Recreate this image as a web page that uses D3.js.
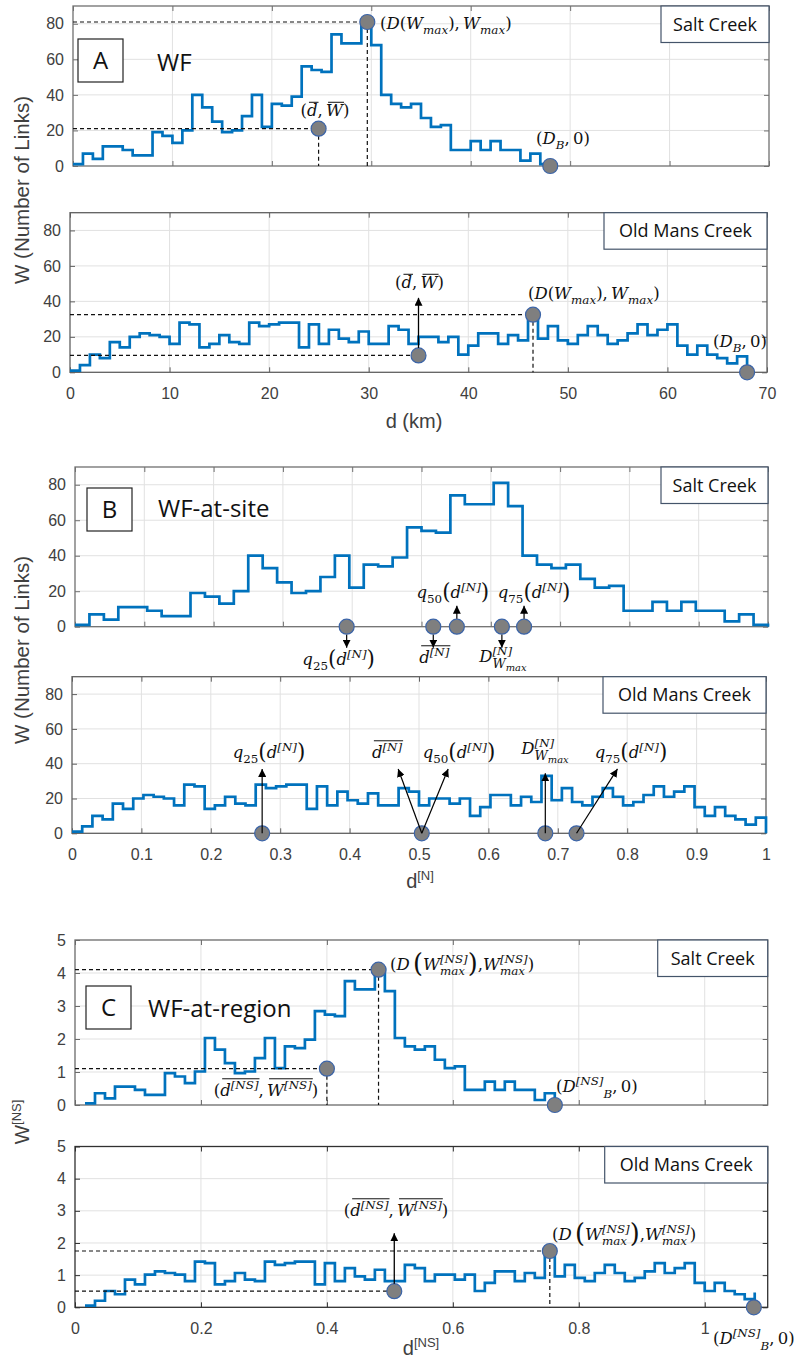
<!DOCTYPE html>
<html>
<head>
<meta charset="utf-8">
<script src="https://cdn.jsdelivr.net/npm/d3@7"></script>
<style>
  body { margin: 0; background: #fff; }
  svg { display: block; }
</style>
</head>
<body>
<svg id="chart" width="797" height="1369"></svg>
<script>
// ---------------------------------------------------------------
// Width functions W(d): number of links per 1 km flow-distance bin
// ---------------------------------------------------------------
const saltCreekW = [1,7,4,11,11,9,6,6,19,17,13,20,40,33,25,19,20,28,40,22,
                    35,34,39,56,54,53,74,69,69,81,68,40,35,33,35,27,22,23,9,9,
                    14,9,14,9,9,3,7,1];
const oldMansCreekW = [1,4,10,8,17,14,20,22,21,20,16,28,27,14,16,21,17,16,28,26,
                       27,28,28,14,27,16,24,19,17,23,16,16,26,24,16,20,20,17,20,10,
                       15,22,22,16,21,18,33,19,26,18,16,21,26,21,16,18,22,27,21,24,
                       27,15,10,15,10,8,5,9];
const saltCreekDB = 48;     // basin length D_B (km)
const oldMansCreekDB = 68;
const nsLength = 63;        // km per unit of d^[NS]
const nsWidth = 19.7;       // links per unit of W^[NS]

// Characteristic points
const saltPeak = [29.6, 81], saltMean = [24.7, 21];
const oldPeak = [46.5, 32.5], oldMean = [35, 9.5], oldMeanArrowTop = 42;
const saltSite = { q25: 0.392, mean: 0.517, q50: 0.551, dwmax: 0.616, q75: 0.648 };
const oldSite = { q25: 0.274, mean: 0.504, q50: 0.504, dwmax: 0.682, q75: 0.727 };
const oldSiteArrowTips = { q25: [0.274, 37], mean: [0.470, 37], q50: [0.542, 37], dwmax: [0.682, 34.5], q75: [0.786, 37] };
const saltRegionPeak = [0.482, 4.1], saltRegionMean = [0.40, 1.1], saltRegionDB = 0.762;
const oldRegionPeak = [0.754, 1.75], oldRegionMean = [0.507, 0.5], oldRegionDB = 1.078, oldRegionArrowTop = 2.3;

// Tick values and labels
const kmTicks = [0, 10, 20, 30, 40, 50, 60, 70];
const linkTicks = [0, 20, 40, 60, 80];
const siteTicks = [0, 0.1, 0.2, 0.3, 0.4, 0.5, 0.6, 0.7, 0.8, 0.9, 1];
const siteTickLabels = ["0", "0.1", "0.2", "0.3", "0.4", "0.5", "0.6", "0.7", "0.8", "0.9", "1"];
const regionTicks = [0, 0.2, 0.4, 0.6, 0.8, 1];
const regionTickLabels = ["0", "0.2", "0.4", "0.6", "0.8", "1"];
const nsTicks = [0, 1, 2, 3, 4, 5];

// ---------------------------------------------------------------
const svg = d3.select("#chart");
const LINE = "#0072bd", GRID = "#e1e1e1", TICKTXT = "#404040";
const SANS = "'Liberation Sans', Arial, sans-serif";
const LABEL = "'Open Sans', sans-serif";
const MATH = "'DejaVu Serif', serif";

const defs = svg.append("defs");
defs.append("marker").attr("id", "head").attr("viewBox", "0 0 10 10")
  .attr("refX", 10).attr("refY", 5).attr("markerWidth", 8).attr("markerHeight", 8)
  .attr("markerUnits", "userSpaceOnUse").attr("orient", "auto")
  .append("path").attr("d", "M0,0 L10,5 L0,10 Z").attr("fill", "#000");

function makeAxes(o) {
  const x = d3.scaleLinear().domain(o.xDomain).range(o.xRange);
  const y = d3.scaleLinear().domain(o.yDomain).range(o.yRange);
  const g = svg.append("g");
  const [x0, x1] = o.xRange, [y0, y1] = o.yRange;
  g.append("g").selectAll("line")
    .data(o.xTicks.filter(v => v > o.xDomain[0] && v < o.xDomain[1]))
    .join("line").attr("x1", d => x(d)).attr("x2", d => x(d)).attr("y1", y0).attr("y2", y1)
    .attr("stroke", GRID).attr("stroke-width", 1);
  g.append("g").selectAll("line")
    .data(o.yTicks.filter(v => v > o.yDomain[0] && v < o.yDomain[1]))
    .join("line").attr("y1", d => y(d)).attr("y2", d => y(d)).attr("x1", x0).attr("x2", x1)
    .attr("stroke", GRID).attr("stroke-width", 1);

  const style = sel => {
    sel.select(".domain").remove();
    sel.selectAll(".tick line").attr("stroke", o.frame).attr("stroke-width", 1);
    sel.selectAll(".tick text").attr("fill", TICKTXT).attr("font-family", SANS).attr("font-size", 16);
  };
  g.append("g").attr("transform", `translate(${x0},0)`)
    .call(d3.axisLeft(y).tickValues(o.yTicks).tickSize(-5).tickPadding(9).tickFormat(d3.format("d"))).call(style);
  g.append("g").attr("transform", `translate(${x1},0)`)
    .call(d3.axisRight(y).tickValues(o.yTicks).tickSize(-5).tickFormat(() => "")).call(style);
  g.append("g").attr("transform", `translate(0,${y1})`)
    .call(d3.axisTop(x).tickValues(o.xTicks).tickSize(-5).tickFormat(() => "")).call(style);
  g.append("g").attr("transform", `translate(0,${y0})`)
    .call(d3.axisBottom(x).tickValues(o.xTicks).tickSize(-5).tickPadding(15)
      .tickFormat((d, i) => o.xTickLabels ? o.xTickLabels[i] : "")).call(style);
  g.append("rect").attr("x", x0).attr("y", y1).attr("width", x1 - x0).attr("height", y0 - y1)
    .attr("fill", "none").attr("stroke", o.frame).attr("stroke-width", 1.3);
  return { g, x, y };
}

function stairs(ax, pts) {
  ax.g.append("path").datum(pts)
    .attr("d", d3.line().x(d => ax.x(d[0])).y(d => ax.y(d[1])).curve(d3.curveStepAfter))
    .attr("fill", "none").attr("stroke", LINE).attr("stroke-width", 2.7).attr("stroke-linejoin", "miter");
}
function dot(ax, px, py) {
  ax.g.append("circle").attr("cx", ax.x(px)).attr("cy", ax.y(py)).attr("r", 7.5)
    .attr("fill", "#7f7f7f").attr("stroke", "#3b64a8").attr("stroke-width", 1.2);
}
function dashH(ax, px, py) {
  ax.g.append("line").attr("x1", ax.x(ax.x.domain()[0])).attr("x2", ax.x(px))
    .attr("y1", ax.y(py)).attr("y2", ax.y(py))
    .attr("stroke", "#111").attr("stroke-width", 1.2).attr("stroke-dasharray", "4,3");
}
function dashV(ax, px, py) {
  ax.g.append("line").attr("x1", ax.x(px)).attr("x2", ax.x(px))
    .attr("y1", ax.y(py)).attr("y2", ax.y(0))
    .attr("stroke", "#111").attr("stroke-width", 1.2).attr("stroke-dasharray", "4,3");
}
function arrow(x1, y1, x2, y2, w = 1.3) {
  svg.append("line").attr("x1", x1).attr("y1", y1).attr("x2", x2).attr("y2", y2)
    .attr("stroke", "#000").attr("stroke-width", w).attr("marker-end", "url(#head)");
}
function creekBox(ax, name, w) {
  const [x0, x1] = ax.x.range(), top = ax.y.range()[1];
  const h = 36.5;
  ax.g.append("rect").attr("x", x1 - w).attr("y", top).attr("width", w).attr("height", h)
    .attr("fill", "#fff").attr("stroke", "#44546a").attr("stroke-width", 1.2);
  ax.g.append("text").attr("x", x1 - w / 2).attr("y", top + h / 2).attr("dy", "0.36em")
    .attr("text-anchor", "middle").attr("font-family", LABEL).attr("font-size", 18)
    .attr("fill", "#111").text(name);
}
function panelTag(bx, by, letter, title, tx, ty) {
  svg.append("rect").attr("x", bx).attr("y", by).attr("width", 45).attr("height", 43)
    .attr("fill", "#fff").attr("stroke", "#222").attr("stroke-width", 1.2);
  svg.append("text").attr("x", bx + 22.5).attr("y", by + 21.5).attr("dy", "0.36em")
    .attr("text-anchor", "middle").attr("font-family", LABEL).attr("font-size", 24)
    .attr("fill", "#111").text(letter);
  svg.append("text").attr("x", tx).attr("y", ty).attr("font-family", LABEL).attr("font-size", 24)
    .attr("fill", "#111").text(title);
}

// Math-style label built from runs of text (italic, sub/superscripts, overlines)
function mathLabel(x, y, parts, anchor = "start", size = 16.5) {
  const g = svg.append("g");
  let cx = 0, hold = null;
  const placed = [];
  for (const p of parts) {
    const s = size * (p.sz || 1);
    const ty = (p.dy || 0) * size;
    const t = g.append("text").attr("x", cx).attr("y", ty)
      .attr("font-family", MATH).attr("font-size", s)
      .attr("font-style", p.i ? "italic" : "normal").attr("fill", "#111").text(p.t);
    const w = t.node().getComputedTextLength();
    placed.push({ p, x0: cx, x1: cx + w, top: ty - s * 0.74 });
    if (p.hold) hold = cx + w; else cx += w;
    if (p.release) { cx = Math.max(cx, hold); hold = null; }
  }
  const groups = d3.group(placed.filter(d => d.p.ol), d => d.p.ol);
  for (const [, arr] of groups) {
    const x0 = d3.min(arr, d => d.x0), x1 = d3.max(arr, d => d.x1), top = d3.min(arr, d => d.top);
    g.append("line").attr("x1", x0 + 2).attr("x2", x1 + 1).attr("y1", top - 1.5).attr("y2", top - 1.5)
      .attr("stroke", "#111").attr("stroke-width", 1);
  }
  const shift = anchor === "middle" ? -cx / 2 : anchor === "end" ? -cx : 0;
  g.attr("transform", `translate(${x + shift},${y})`);
}
const I = (t, extra = {}) => Object.assign({ t, i: 1 }, extra);
const R = (t, extra = {}) => Object.assign({ t }, extra);
const SUB = (t, extra = {}) => Object.assign({ t, i: 1, sz: 0.72, dy: 0.3 }, extra);
const SUP = (t, extra = {}) => Object.assign({ t, i: 1, sz: 0.72, dy: -0.42 }, extra);
const BIG = (t) => ({ t, sz: 1.3, dy: 0.08 });

const lblPeak = [R("("), I("D"), R("("), I("W"), SUB("max"), R("),\u2009"), I("W"), SUB("max"), R(")")];
const lblMean = [R("("), I("d", { ol: 1 }), R(",\u2009"), I("W", { ol: 2 }), R(")")];
const lblDB = [R("("), I("D"), SUB("B"), R(",\u20090)")];
const lblQ = q => [I("q"), SUB(q, { i: 0 }), BIG("("), I("d"), SUP("[N]"), BIG(")")];
const lblMeanN = [I("d", { ol: 1 }), SUP("[N]", { ol: 1 })];
const lblDwN = [I("D"), SUP("[N]", { hold: true }), SUB("W", { dy: 0.34, sz: 0.78 }), { t: "max", i: 1, sz: 0.6, dy: 0.55, release: true }];
const lblPeakNS = [R("("), I("D"), R("\u2009"), { t: "(", sz: 1.55, dy: 0.12 }, I("W"), SUP("[NS]", { hold: true }),
  SUB("max", { release: true }), { t: ")", sz: 1.55, dy: 0.12 }, R(","), I("W"), SUP("[NS]", { hold: true }),
  SUB("max", { release: true }), R(")")];
const lblMeanNS = [R("("), I("d", { ol: 1 }), SUP("[NS]", { ol: 1 }), R(",\u2009"), I("W", { ol: 2 }), SUP("[NS]", { ol: 2 }), R(")")];
const lblDBNS = [R("("), I("D"), SUP("[NS]"), SUB("B", { dy: 0.38 }), R(",\u20090)")];

// ------------------------------ A: WF ------------------------------
const a1 = makeAxes({ xDomain: [0, 70], xRange: [73, 769], yDomain: [0, 90], yRange: [166, 6],
  xTicks: kmTicks, yTicks: linkTicks, frame: "#707070" });
stairs(a1, saltCreekW.map((w, i) => [i, w]).concat([[saltCreekDB, 0]]));
dashH(a1, ...saltPeak); dashV(a1, ...saltPeak);
dashH(a1, ...saltMean); dashV(a1, ...saltMean);
dot(a1, ...saltPeak); dot(a1, ...saltMean); dot(a1, saltCreekDB, 0);
creekBox(a1, "Salt Creek", 108);

const a2 = makeAxes({ xDomain: [0, 70], xRange: [70, 767], yDomain: [0, 90], yRange: [372.3, 212.7],
  xTicks: kmTicks, yTicks: linkTicks, xTickLabels: kmTicks.map(String), frame: "#606060" });
stairs(a2, oldMansCreekW.map((w, i) => [i, w]).concat([[oldMansCreekDB, 0]]));
dashH(a2, ...oldPeak); dashV(a2, ...oldPeak);
dashH(a2, ...oldMean);
dot(a2, ...oldPeak); dot(a2, ...oldMean); dot(a2, oldMansCreekDB, 0);
arrow(a2.x(oldMean[0]), a2.y(oldMean[1]) - 7.5, a2.x(oldMean[0]), a2.y(oldMeanArrowTop));
creekBox(a2, "Old Mans Creek", 163);

panelTag(78, 39, "A", "WF", 157, 71);
mathLabel(380, 29, lblPeak);
mathLabel(325, 116, lblMean, "middle");
mathLabel(536, 144, lblDB);
mathLabel(419.5, 288, lblMean, "middle");
mathLabel(528, 299, lblPeak);
mathLabel(713, 347, lblDB);

svg.append("text").attr("transform", "translate(29,190) rotate(-90)").attr("text-anchor", "middle")
  .attr("font-family", SANS).attr("font-size", 20.5).attr("fill", TICKTXT).text("W (Number of Links)");
svg.append("text").attr("x", 414).attr("y", 428).attr("text-anchor", "middle")
  .attr("font-family", SANS).attr("font-size", 20).attr("fill", TICKTXT).text("d (km)");

// -------------------------- B: WF-at-site --------------------------
const b1 = makeAxes({ xDomain: [0, 1], xRange: [75, 768], yDomain: [0, 90], yRange: [626.7, 467],
  xTicks: siteTicks, yTicks: linkTicks, frame: "#707070" });
stairs(b1, saltCreekW.map((w, i) => [i / saltCreekDB, w]).concat([[1, 0]]));
creekBox(b1, "Salt Creek", 107);
const y0b1 = b1.y(0);
for (const [k, dir] of [["q25", 1], ["mean", 1], ["q50", -1], ["dwmax", 1], ["q75", -1]]) {
  const cx = b1.x(saltSite[k]);
  dot(b1, saltSite[k], 0);
  arrow(cx, y0b1 + dir * 8, cx, y0b1 + dir * 21, 1.2);
}
mathLabel(b1.x(saltSite.q25) - 8, 665, lblQ("25"), "middle");
mathLabel(b1.x(saltSite.mean) + 1, 663, lblMeanN, "middle");
mathLabel(b1.x(saltSite.q50) - 4, 598, lblQ("50"), "middle");
mathLabel(b1.x(saltSite.dwmax) + 1, 662, lblDwN, "middle");
mathLabel(b1.x(saltSite.q75) + 10, 598, lblQ("75"), "middle");

const b2 = makeAxes({ xDomain: [0, 1], xRange: [72, 766], yDomain: [0, 90], yRange: [833.3, 676.7],
  xTicks: siteTicks, yTicks: linkTicks, xTickLabels: siteTickLabels, frame: "#606060" });
stairs(b2, oldMansCreekW.map((w, i) => [i / oldMansCreekDB, w]).concat([[1, 0]]));
creekBox(b2, "Old Mans Creek", 163);
for (const k of ["q25", "mean", "q50", "dwmax", "q75"]) {
  const tip = oldSiteArrowTips[k];
  arrow(b2.x(oldSite[k]), b2.y(0), b2.x(tip[0]), b2.y(tip[1]), 1.2);
}
for (const k of ["q25", "mean", "dwmax", "q75"]) dot(b2, oldSite[k], 0);
mathLabel(269, 758, lblQ("25"), "middle");
mathLabel(387, 758, lblMeanN, "middle");
mathLabel(459, 758, lblQ("50"), "middle");
mathLabel(545, 754, lblDwN, "middle");
mathLabel(631, 758, lblQ("75"), "middle");

panelTag(87, 488, "B", "WF-at-site", 158, 517);
svg.append("text").attr("transform", "translate(29,650) rotate(-90)").attr("text-anchor", "middle")
  .attr("font-family", SANS).attr("font-size", 20.5).attr("fill", TICKTXT).text("W (Number of Links)");
const dN = svg.append("text").attr("x", 420).attr("y", 888).attr("text-anchor", "middle")
  .attr("font-family", SANS).attr("font-size", 20).attr("fill", TICKTXT);
dN.append("tspan").text("d");
dN.append("tspan").attr("dy", -8).attr("font-size", 13).text("[N]");

// ------------------------- C: WF-at-region -------------------------
const c1 = makeAxes({ xDomain: [0, 1.1], xRange: [75, 767.7], yDomain: [0, 5], yRange: [1105, 940],
  xTicks: regionTicks, yTicks: nsTicks, frame: "#6a6a6a" });
stairs(c1, saltCreekW.map((w, i) => [(i + 1) / nsLength, w / nsWidth]));
dashH(c1, ...saltRegionPeak); dashV(c1, ...saltRegionPeak);
dashH(c1, ...saltRegionMean); dashV(c1, ...saltRegionMean);
dot(c1, ...saltRegionPeak); dot(c1, ...saltRegionMean); dot(c1, saltRegionDB, 0);
creekBox(c1, "Salt Creek", 110);

const c2 = makeAxes({ xDomain: [0, 1.1], xRange: [75, 767.7], yDomain: [0, 5], yRange: [1307.3, 1146.5],
  xTicks: regionTicks, yTicks: nsTicks, xTickLabels: regionTickLabels, frame: "#303030" });
stairs(c2, oldMansCreekW.map((w, i) => [(i + 1) / nsLength, w / nsWidth]));
dashH(c2, ...oldRegionPeak); dashV(c2, ...oldRegionPeak);
dashH(c2, ...oldRegionMean);
arrow(c2.x(oldRegionMean[0]), c2.y(oldRegionMean[1]) - 7.5, c2.x(oldRegionMean[0]), c2.y(oldRegionArrowTop));
dot(c2, ...oldRegionPeak); dot(c2, ...oldRegionMean); dot(c2, oldRegionDB, 0);
creekBox(c2, "Old Mans Creek", 163);

panelTag(86, 986, "C", "WF-at-region", 148, 1017);
mathLabel(390, 970, lblPeakNS);
mathLabel(266, 1096, lblMeanNS, "middle");
mathLabel(556, 1092, lblDBNS);
mathLabel(396, 1216, lblMeanNS, "middle");
mathLabel(552, 1240, lblPeakNS);
mathLabel(713, 1344, lblDBNS);

const wNS = svg.append("text").attr("transform", "translate(29,1122) rotate(-90)").attr("text-anchor", "middle")
  .attr("font-family", SANS).attr("font-size", 20.5).attr("fill", TICKTXT);
wNS.append("tspan").text("W");
wNS.append("tspan").attr("dy", -8).attr("font-size", 13).text("[NS]");
const dNS = svg.append("text").attr("x", 421).attr("y", 1355).attr("text-anchor", "middle")
  .attr("font-family", SANS).attr("font-size", 20).attr("fill", TICKTXT);
dNS.append("tspan").text("d");
dNS.append("tspan").attr("dy", -8).attr("font-size", 13).text("[NS]");
</script>
</body>
</html>
